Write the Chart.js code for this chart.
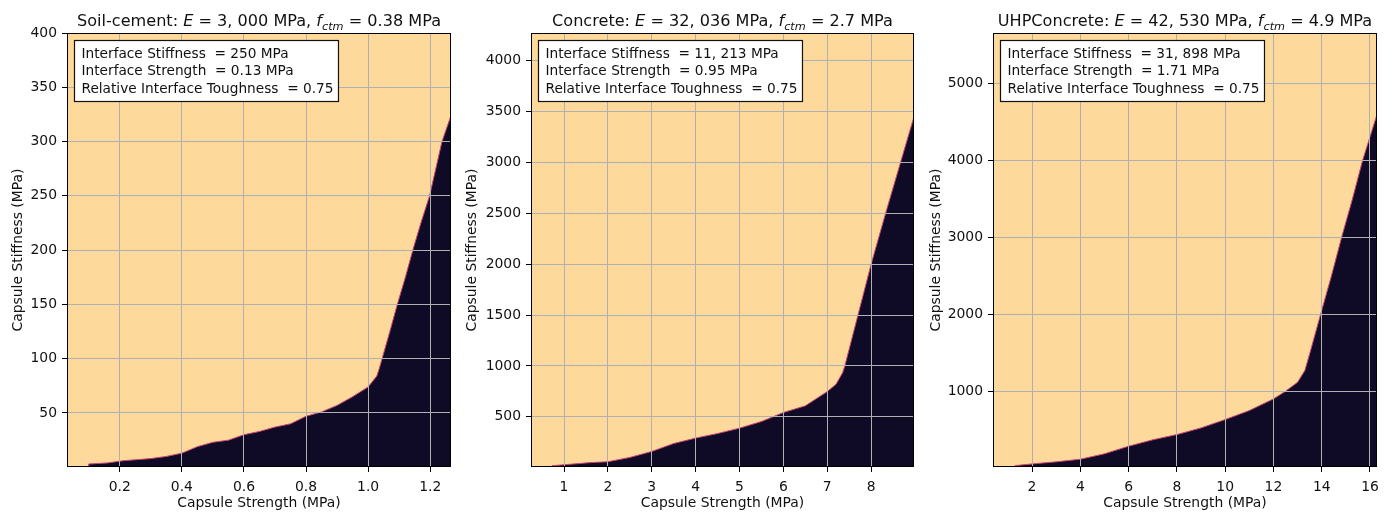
<!DOCTYPE html>
<html>
<head>
<meta charset="utf-8">
<title>Capsule stiffness vs strength</title>
<script src="https://cdn.jsdelivr.net/npm/chart.js@4.4.1/dist/chart.umd.min.js"></script>
<style>
  html, body { margin: 0; padding: 0; background: #fff; }
  #wrap { position: relative; width: 1392px; height: 512px; }
  #wrap canvas { position: absolute; top: 0; }
</style>
</head>
<body>
<div id="wrap">
  <canvas id="c0" width="464" height="512" style="left:0px"></canvas>
  <canvas id="c1" width="464" height="512" style="left:464px"></canvas>
  <canvas id="c2" width="464" height="512" style="left:928px"></canvas>
</div>
<script>
// --- values ---
const materials = ['Soil-cement', 'Concrete', 'UHPConcrete'];
const youngsModulus = ['3, 000', '32, 036', '42, 530'];
const tensileStrength = ['0.38', '2.7', '4.9'];
const interfaceStiffness = ['250', '11, 213', '31, 898'];
const interfaceStrength = ['0.13', '0.95', '1.71'];
const relativeToughness = ['0.75', '0.75', '0.75'];

// boundary between the two regions (capsule strength -> capsule stiffness)
const soilStrength = [0.03, 0.10, 0.10, 0.16, 0.21, 0.30, 0.35, 0.40, 0.45, 0.50, 0.55, 0.60, 0.65, 0.70, 0.75, 0.80, 0.85, 0.90, 0.95, 1.00, 1.028, 1.035, 1.044, 1.07, 1.094, 1.12, 1.145, 1.17, 1.198, 1.238, 1.267];
const soilStiffness = [0.5, 0.5, 3, 4, 6, 8, 10, 13, 19, 23, 25, 30, 33, 37, 40, 47, 51, 57, 65, 74, 84, 90, 99, 125, 150, 175, 201, 225, 250, 300, 324];

const concreteStrength = [0.247, 0.73, 0.73, 1.2, 1.6, 2.0, 2.5, 3.0, 3.5, 4.0, 4.5, 5.0, 5.5, 6.0, 6.5, 7.0, 7.2, 7.35, 7.40, 7.55, 7.70, 7.85, 8.0, 8.33, 8.67, 8.977];
const concreteStiffness = [8, 8, 20, 36, 50, 59, 101, 160, 238, 291, 336, 389, 454, 542, 608, 748, 820, 934, 1000, 1250, 1500, 1750, 2000, 2500, 3000, 3450];

const uhpStrength = [0.384, 1.3, 1.3, 2, 3, 4, 5, 6, 7, 8, 9, 10, 11, 12, 12.5, 13, 13.3, 13.5, 13.95, 14.4, 14.82, 15.27, 15.69, 16.29];
const uhpStiffness = [21, 21, 38, 60, 87, 121, 191, 290, 373, 441, 528, 636, 753, 905, 1004, 1121, 1273, 1490, 2000, 2500, 3000, 3500, 4000, 4600];

// axis ranges and ticks
const xRanges = [[0.03, 1.267], [0.247, 8.977], [0.384, 16.29]];
const yRanges = [[0.25, 400], [7, 4272], [20, 5660]];
const xTicks = [[0.2, 0.4, 0.6, 0.8, 1.0, 1.2], [1, 2, 3, 4, 5, 6, 7, 8], [2, 4, 6, 8, 10, 12, 14, 16]];
const xTickLabels = [['0.2', '0.4', '0.6', '0.8', '1.0', '1.2'], ['1', '2', '3', '4', '5', '6', '7', '8'], ['2', '4', '6', '8', '10', '12', '14', '16']];
const yTicks = [[50, 100, 150, 200, 250, 300, 350, 400], [500, 1000, 1500, 2000, 2500, 3000, 3500, 4000], [1000, 2000, 3000, 4000, 5000]];
const yTickLabels = [['50', '100', '150', '200', '250', '300', '350', '400'], ['500', '1000', '1500', '2000', '2500', '3000', '3500', '4000'], ['1000', '2000', '3000', '4000', '5000']];

const strengths = [soilStrength, concreteStrength, uhpStrength];
const stiffnesses = [soilStiffness, concreteStiffness, uhpStiffness];

// --- styling ---
const FONT = "'DejaVu Sans', sans-serif";
const lightColor = '#fdd99b';
const darkColor = '#0f0b27';
const edgeColor = '#cc4474';
const gridColor = '#b0b0b0';
const textColor = '#111';
const yAxisWidth = [67, 67, 65];
const rightPad = [13, 14, 15];
const yTitlePad = [10, 0, 0];

Chart.defaults.font.family = FONT;
Chart.defaults.color = textColor;

function drawRich(ctx, parts, cx, baseline, size) {
  const fontFor = p => (p.it ? 'italic ' : '') + (p.sub ? size * 0.7 : size) + 'px ' + FONT;
  let total = 0;
  parts.forEach(p => { ctx.font = fontFor(p); total += ctx.measureText(p.t).width; });
  let x = cx - total / 2;
  parts.forEach(p => {
    ctx.font = fontFor(p);
    ctx.fillText(p.t, x, baseline + (p.sub ? size * 0.22 : 0));
    x += ctx.measureText(p.t).width;
  });
}

const panelText = {
  id: 'panelText',
  beforeDraw(chart) {
    const {ctx, chartArea: a} = chart;
    ctx.save();
    ctx.fillStyle = lightColor;
    ctx.fillRect(a.left, a.top, a.right - a.left, a.bottom - a.top);
    ctx.restore();
  },
  afterDraw(chart, args, opts) {
    const {ctx, chartArea: a} = chart;
    ctx.save();
    // frame
    ctx.strokeStyle = '#000';
    ctx.lineWidth = 1;
    ctx.strokeRect(a.left + 0.5, a.top + 0.5, a.right - a.left - 1, a.bottom - a.top - 1);
    // title
    ctx.fillStyle = textColor;
    ctx.textAlign = 'left';
    ctx.textBaseline = 'alphabetic';
    drawRich(ctx, opts.title, (a.left + a.right) / 2, 26, 16.1);
    // info box
    ctx.font = '13.7px ' + FONT;
    const w = Math.max(...opts.lines.map(l => ctx.measureText(l).width)) + 12;
    const bx = Math.round(a.left + 7) + 0.5, by = Math.round(a.top + 7) + 0.5;
    ctx.fillStyle = '#fff';
    ctx.fillRect(bx, by, w, 61);
    ctx.strokeStyle = '#111';
    ctx.lineWidth = 1.2;
    ctx.strokeRect(bx, by, w, 61);
    ctx.fillStyle = textColor;
    const offs = [17, 34, 52];
    opts.lines.forEach((l, k) => ctx.fillText(l, bx + 7, by + offs[k]));
    ctx.restore();
  }
};

function makePanel(i) {
  const xs = strengths[i], ys = stiffnesses[i];
  new Chart(document.getElementById('c' + i), {
    type: 'line',
    data: {
      datasets: [{
        data: xs.map((x, k) => ({x: x, y: ys[k]})),
        borderColor: edgeColor,
        borderWidth: 1,
        backgroundColor: darkColor,
        fill: 'start',
        pointRadius: 0,
        tension: 0
      }]
    },
    options: {
      responsive: false,
      animation: false,
      layout: {padding: {top: 33, right: rightPad[i], bottom: 0, left: 0}},
      plugins: {
        legend: {display: false},
        tooltip: {enabled: false},
        panelText: {
          title: [
            {t: materials[i] + ': '},
            {t: 'E', it: true},
            {t: ' = ' + youngsModulus[i] + ' MPa, '},
            {t: 'f', it: true},
            {t: 'ctm', it: true, sub: true},
            {t: ' = ' + tensileStrength[i] + ' MPa'}
          ],
          lines: [
            'Interface Stiffness  = ' + interfaceStiffness[i] + ' MPa',
            'Interface Strength  = ' + interfaceStrength[i] + ' MPa',
            'Relative Interface Toughness  = ' + relativeToughness[i]
          ]
        }
      },
      scales: {
        x: {
          type: 'linear',
          min: xRanges[i][0],
          max: xRanges[i][1],
          afterBuildTicks: s => { s.ticks = xTicks[i].map(v => ({value: v})); },
          afterFit: s => { s.height = 45; },
          ticks: {
            autoSkip: false, maxRotation: 0, padding: 7,
            font: {size: 13.9},
            callback: (v, idx) => xTickLabels[i][idx]
          },
          grid: {z: 1, color: gridColor, lineWidth: 1, tickColor: '#000', tickLength: 5, tickWidth: 1},
          border: {display: false},
          title: {display: true, text: 'Capsule Strength (MPa)', font: {size: 13.9}, padding: {top: 0, bottom: 0}}
        },
        y: {
          type: 'linear',
          min: yRanges[i][0],
          max: yRanges[i][1],
          afterBuildTicks: s => { s.ticks = yTicks[i].map(v => ({value: v})); },
          afterFit: s => { s.width = yAxisWidth[i]; },
          ticks: {
            autoSkip: false, padding: 5,
            font: {size: 13.9},
            callback: (v, idx) => yTickLabels[i][idx]
          },
          grid: {z: 1, color: gridColor, lineWidth: 1, tickColor: '#000', tickLength: 5, tickWidth: 1},
          border: {display: false},
          title: {display: true, text: 'Capsule Stiffness (MPa)', font: {size: 13.9}, padding: {top: yTitlePad[i], bottom: 0}}
        }
      }
    },
    plugins: [panelText]
  });
}

[0, 1, 2].forEach(makePanel);
</script>
</body>
</html>
